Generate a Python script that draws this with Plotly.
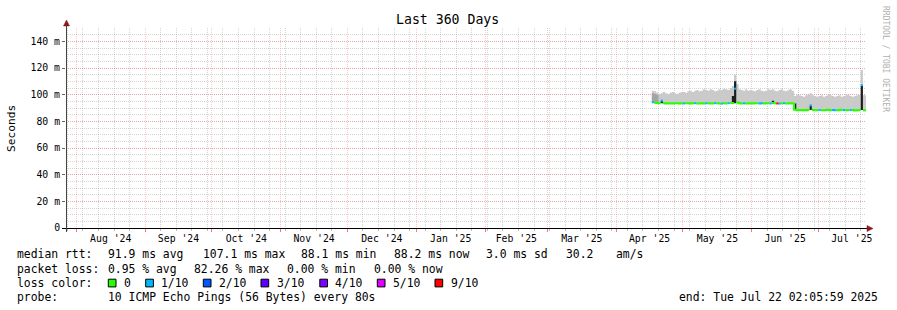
import pandas as pd
import plotly.graph_objects as go

MONO = "DejaVu Sans Mono"
# plot-area pixel frame (used only to convert text/shape positions to paper coords)
L, RGT, TOP, BOT = 66, 866, 28, 228
W, H = RGT - L, BOT - TOP

range_start = pd.Timestamp("2024-07-27 09:00")
range_end = pd.Timestamp("2025-07-22 09:00")

days = pd.date_range("2025-04-17", "2025-07-21", freq="D")

# median RTT (ms) per day
median_apr = [94.3, 94.0, 93.7, 93.5, 95.5, 93.6, 93.4, 93.5, 93.3, 93.4, 93.6, 93.5, 93.4, 93.5]
median_may = [93.4, 93.6, 93.5, 93.3, 93.5, 93.6, 93.4, 93.3, 93.5, 93.4,
              93.6, 93.5, 93.3, 93.4, 93.6, 93.5, 93.4, 93.3, 93.5, 93.4,
              93.6, 93.8, 93.7, 104.5, 94.2, 93.6, 93.4, 93.5, 93.3, 93.4, 93.5]
median_jun = [93.4, 93.6, 93.5, 93.3, 93.5, 93.4, 93.6, 93.5, 93.4, 93.7,
              93.5, 93.4, 93.3, 93.5, 93.6, 93.4, 93.3, 93.5, 93.4,
              88.6, 88.4, 88.5, 88.3, 88.5, 88.4, 88.6, 92.0, 88.5, 88.4, 88.3]
median_jul = [88.5, 88.4, 88.3, 88.5, 88.6, 88.4, 88.5, 88.3, 88.4, 88.5,
              88.6, 88.4, 88.3, 88.5, 88.4, 88.5, 88.1, 88.4, 88.5, 107.1, 88.2]

# lost pings out of 10 per day
loss_apr = [1, 0, 0, 0, 1, 0, 0, 0, 0, 0, 0, 0, 0, 0]
loss_may = [1, 0, 0, 0, 0, 1, 0, 0, 0, 0, 1, 0, 0, 0, 1, 0, 0, 1, 0, 0, 1, 0, 0, 1, 0, 0, 0, 1, 0, 0, 0]
loss_jun = [0, 0, 0, 1, 1, 0, 0, 0, 1, 0, 0, 9, 1, 0, 1, 0, 0, 0, 0, 0, 0, 0, 0, 0, 0, 0, 1, 0, 0, 0]
loss_jul = [1, 0, 0, 0, 0, 0, 1, 1, 0, 0, 0, 1, 0, 0, 1, 0, 0, 0, 0, 1, 0]

# highest ping (top of smoke, ms) per day
smax_apr = [103.0, 102.5, 101.5, 100.5, 101.0, 102.0, 101.0, 100.5, 101.5, 102.0, 101.0, 100.5, 101.5, 102.0]
smax_may = [102.0, 101.5, 102.5, 103.0, 102.0, 103.0, 103.5, 102.5, 103.0, 104.0,
            103.5, 103.0, 104.0, 103.5, 102.5, 103.0, 104.0, 103.5, 104.5, 104.0,
            103.5, 105.0, 106.5, 115.0, 108.0, 104.0, 103.5, 103.0, 104.0, 103.0, 103.5]
smax_jun = [103.0, 102.5, 103.5, 104.0, 103.0, 102.5, 103.0, 104.0, 103.5, 104.0,
            103.0, 102.5, 103.5, 104.0, 103.0, 102.5, 103.5, 104.0, 103.0,
            99.0, 100.0, 99.5, 99.0, 98.5, 99.5, 100.0, 101.0, 99.5, 99.0, 98.5]
smax_jul = [99.0, 99.5, 98.5, 99.0, 100.0, 99.5, 99.0, 98.5, 99.0, 99.5,
            98.5, 99.0, 99.5, 100.0, 99.0, 98.5, 99.0, 99.5, 100.0, 118.5, 99.5]

# denser (mid-grey) smoke
mid_days = ["2025-04-17", "2025-04-18", "2025-04-19"]
mid_lo = [94.3, 94.0, 93.7]
mid_hi = [101.0, 100.5, 100.0]

# very dense (near black) smoke
dark_days = ["2025-04-21", "2025-05-23", "2025-05-24", "2025-06-10", "2025-06-20", "2025-06-27", "2025-07-20"]
dark_lo = [93.5, 93.5, 93.5, 93.4, 88.6, 88.5, 88.5]
dark_hi = [95.3, 99.0, 110.0, 95.5, 93.4, 91.6, 106.6]

median_ms = median_apr + median_may + median_jun + median_jul
loss = loss_apr + loss_may + loss_jun + loss_jul
smoke_max = smax_apr + smax_may + smax_jun + smax_jul

loss_levels = [0, 1, 2, 3, 4, 5, 9]
loss_colors = ["#26ff00", "#00b8ff", "#0059ff", "#5e00ff", "#7e00ff", "#dd00ff", "#ff0000"]
loss_labels = ["0", "1/10", "2/10", "3/10", "4/10", "5/10", "9/10"]

ytick_vals = [0, 20, 40, 60, 80, 100, 120, 140]
ytick_text = ["0", "20 m", "40 m", "60 m", "80 m", "100 m", "120 m", "140 m"]

title_text = "Last 360 Days"
rtt_stats = ["median rtt:", "91.9 ms avg", "107.1 ms max", "88.1 ms min", "88.2 ms now", "3.0 ms sd", "30.2", "am/s"]
loss_stats = ["packet loss:", "0.95 % avg", "82.26 % max", "0.00 % min", "0.00 % now"]
probe_text = ["probe:", "10 ICMP Echo Pings (56 Bytes) every 80s"]
end_text = "end: Tue Jul 22 02:05:59 2025"

# ---------------------------------------------------------------
def px(x):
    return (x - L) / W

def py(y):
    return (BOT - y) / H

ext_x = list(days) + [range_end]
def ext(v):
    return list(v) + [v[-1]]

def next_bound(i):
    return ext_x[i + 1]

fig = go.Figure()

# smoke
fig.add_trace(go.Scatter(x=ext_x, y=ext(median_ms), mode="lines",
                         line=dict(width=0, shape="hv"), hoverinfo="skip"))
fig.add_trace(go.Scatter(x=ext_x, y=ext(smoke_max), mode="lines",
                         line=dict(width=0, shape="hv"), fill="tonexty",
                         fillcolor="#cacaca", hoverinfo="skip"))

def rects(ds, lo, hi):
    xs, ys = [], []
    for d, a, b in zip(ds, lo, hi):
        d0 = pd.Timestamp(d)
        d1 = d0 + pd.Timedelta(days=1)
        xs += [d0, d1, d1, d0, d0, None]
        ys += [a, a, b, b, a, None]
    return xs, ys

mx, my = rects(mid_days, mid_lo, mid_hi)
fig.add_trace(go.Scatter(x=mx, y=my, mode="lines", fill="toself", fillcolor="#a4a4a4",
                         line=dict(width=0), hoverinfo="skip"))
dx, dy = rects(dark_days, dark_lo, dark_hi)
fig.add_trace(go.Scatter(x=dx, y=dy, mode="lines", fill="toself", fillcolor="#1e1e1e",
                         line=dict(width=0), hoverinfo="skip"))

# median coloured by loss
for lvl, col in zip(loss_levels, loss_colors):
    xs, ys = [], []
    i = 0
    n = len(median_ms)
    while i < n:
        if loss[i] == lvl:
            j = i
            while j + 1 < n and loss[j + 1] == lvl:
                j += 1
            for k in range(i, j + 1):
                xs.append(days[k]); ys.append(median_ms[k])
            xs.append(next_bound(j)); ys.append(median_ms[j])
            xs.append(None); ys.append(None)
            i = j + 1
        else:
            i += 1
    if xs:
        fig.add_trace(go.Scatter(x=xs, y=ys, mode="lines",
                                 line=dict(color=col, width=2, shape="hv"),
                                 connectgaps=False, hoverinfo="skip"))

MAJ = "rgba(255,70,70,0.30)"
MIN = "rgba(120,120,120,0.32)"

fig.update_layout(
    template="none",
    width=897, height=310,
    margin=dict(l=L, r=897 - RGT, t=TOP, b=310 - BOT, pad=0),
    paper_bgcolor="white", plot_bgcolor="white",
    showlegend=False,
    xaxis=dict(type="date", range=[range_start, range_end], automargin=False,
               dtick="M1", tick0="2024-08-01", tickformat="%b '%y",
               ticklabelmode="period", ticklabelstandoff=-2,
               showgrid=True, gridcolor=MAJ, griddash="1px,1px", gridwidth=1,
               ticks="outside", ticklen=3, tickcolor="rgba(255,0,0,0.55)",
               tickfont=dict(family=MONO, size=9.8, color="#000"),
               showline=False, zeroline=False,
               minor=dict(dtick=7 * 86400000, tick0="2024-08-04", showgrid=True,
                          gridcolor=MIN, griddash="1px,1px", ticks="outside",
                          ticklen=2, tickcolor="#bbbbbb")),
    yaxis=dict(range=[0, 150], automargin=False,
               tickvals=ytick_vals, ticktext=ytick_text,
               showgrid=True, gridcolor=MAJ, griddash="1px,1px", gridwidth=1,
               ticks="outside", ticklen=3, tickcolor="#666666",
               tickfont=dict(family=MONO, size=9.8, color="#000"),
               showline=False, zeroline=False,
               minor=dict(dtick=5, showgrid=True, gridcolor=MIN, griddash="1px,1px")),
)

shapes = []
# x axis with arrow
shapes.append(dict(type="line", xref="paper", yref="paper",
                   x0=px(62), x1=px(869), y0=py(228.5), y1=py(228.5),
                   line=dict(color="#000000", width=1)))
shapes.append(dict(type="path", xref="paper", yref="paper",
                   path=f"M {px(867)} {py(225.5)} L {px(873)} {py(228.5)} L {px(867)} {py(231.5)} Z",
                   fillcolor="#8b1a1a", line=dict(color="#8b1a1a", width=0.5)))
# y axis with arrow
shapes.append(dict(type="line", xref="paper", yref="paper",
                   x0=px(66.5), x1=px(66.5), y0=py(232), y1=py(25),
                   line=dict(color="#444444", width=1)))
shapes.append(dict(type="path", xref="paper", yref="paper",
                   path=f"M {px(63.5)} {py(26)} L {px(66.5)} {py(20)} L {px(69.5)} {py(26)} Z",
                   fillcolor="#8b1a1a", line=dict(color="#8b1a1a", width=0.5)))

annotations = []
def ann(x, y, text, size=11.4, xanchor="left", color="#000000", angle=0, family=MONO):
    annotations.append(dict(x=px(x), y=py(y), xref="paper", yref="paper", text=text,
                            showarrow=False, xanchor=xanchor, yanchor="middle",
                            font=dict(family=family, size=size, color=color),
                            borderpad=0, textangle=angle))

ann(447.5, 19, title_text, size=13.2, xanchor="center")
ann(11, 128, "Seconds", size=11.2, xanchor="center", angle=-90)
ann(886, 59, "RRDTOOL / TOBI OETIKER", size=8, xanchor="center", angle=90, color="#b0b0b0")

rtt_x = [16, 107.3, 202.3, 300, 393.3, 485.3, 565, 615]
for x, t in zip(rtt_x, rtt_stats):
    ann(x, 254.3, t)
loss_x = [16, 107.3, 193.3, 286, 372.7]
for x, t in zip(loss_x, loss_stats):
    ann(x, 268.5, t)
ann(16, 282.7, "loss color:")
sq_x = [108.3, 145.7, 203.3, 261, 319.8, 377.3, 435]
for x, col, lab in zip(sq_x, loss_colors, loss_labels):
    shapes.append(dict(type="rect", xref="paper", yref="paper",
                       x0=px(x), x1=px(x + 7.7), y0=py(286.9), y1=py(279.2),
                       fillcolor=col, line=dict(color="#000000", width=1)))
    ann(x + 14.6, 282.7, lab)
ann(16, 296.9, probe_text[0])
ann(107.3, 296.9, probe_text[1])
ann(678.3, 296.9, end_text)

fig.update_layout(shapes=shapes, annotations=annotations)
fig.write_html("out.html")
